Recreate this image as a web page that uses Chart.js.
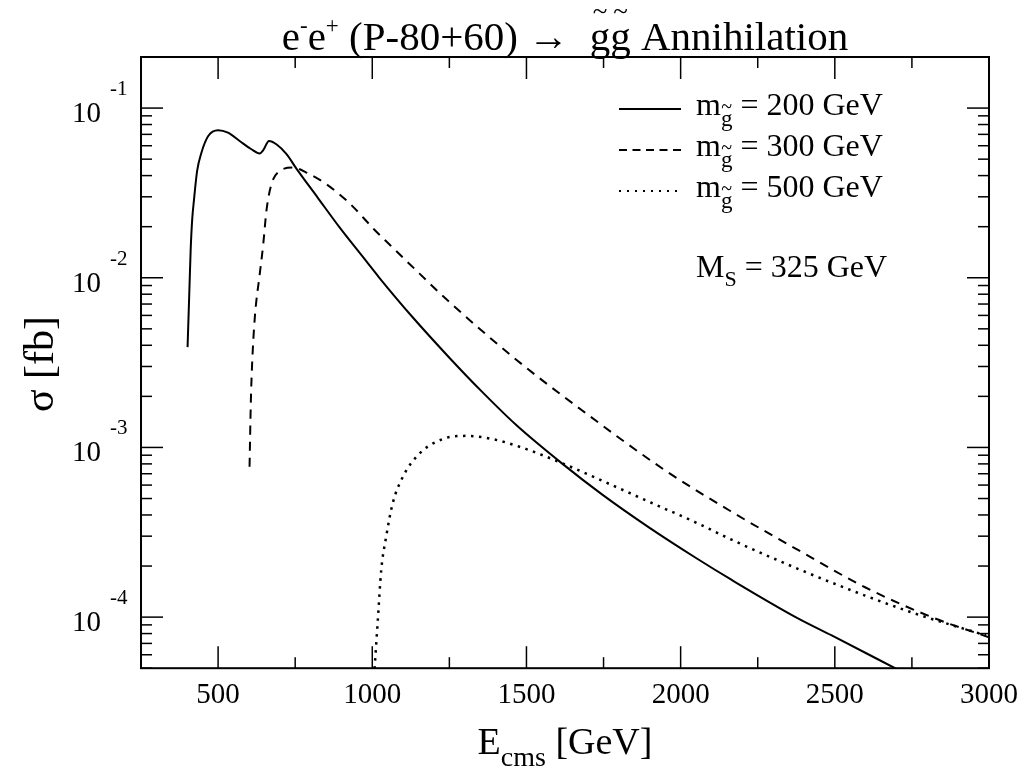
<!DOCTYPE html>
<html>
<head>
<meta charset="utf-8">
<script src="https://cdn.jsdelivr.net/npm/chart.js@4.4.1/dist/chart.umd.min.js"></script>
<style>
  html, body { margin: 0; padding: 0; background: #fff; }
</style>
</head>
<body>
<canvas id="chart" width="1024" height="772"></canvas>
<script>
// sigma [fb] against E_cms [GeV], one pair per gluino mass
const e200 = [401, 406, 411, 416, 422, 432, 446, 468, 500, 532, 570, 608, 635, 646, 665, 689, 722, 754, 824, 894, 969, 1023, 1131, 1250, 1358, 1466, 1617, 1746, 1897, 2050, 2167, 2382, 2490, 2700];
const s200 = [0.0039, 0.0075, 0.0145, 0.022, 0.029, 0.0426, 0.0546, 0.0684, 0.074, 0.0716, 0.064, 0.0572, 0.054, 0.0563, 0.064, 0.0612, 0.0535, 0.044, 0.0295, 0.0198, 0.0133, 0.0100, 0.00585, 0.00338, 0.00211, 0.00136, 0.00080, 0.000527, 0.000338, 0.000223, 0.000165, 0.000098, 0.000078, 0.0000495];

const e300 = [602, 606, 610, 619, 635, 646, 657, 673, 700, 743, 786, 851, 926, 1007, 1056, 1120, 1250, 1466, 1681, 1951, 2167, 2382, 2598, 2814, 3000];
const s300 = [0.00077, 0.0018, 0.003, 0.0058, 0.0105, 0.0155, 0.025, 0.0356, 0.0426, 0.0446, 0.0417, 0.0356, 0.0275, 0.0192, 0.0157, 0.0121, 0.0072, 0.0033, 0.00165, 0.00073, 0.000416, 0.000248, 0.00015, 0.0001, 0.000076];

const e500 = [1004, 1018, 1029, 1045, 1066, 1099, 1153, 1228, 1304, 1390, 1498, 1628, 1768, 1919, 2048, 2167, 2382, 2598, 2760, 2990];
const s500 = [0.00004, 0.000096, 0.000189, 0.000297, 0.000467, 0.00067, 0.00092, 0.00112, 0.00117, 0.00112, 0.00098, 0.00079, 0.00061, 0.00046, 0.000362, 0.000285, 0.000192, 0.000134, 0.000105, 0.000078];

const xTicks = [500, 1000, 1500, 2000, 2500, 3000];
const xMinor = [750, 1250, 1750, 2250, 2750];
const yDecades = [1e-4, 1e-3, 1e-2, 1e-1];
const yExponents = ['-4', '-3', '-2', '-1'];
const legendMasses = ['200', '300', '500'];

const serif = '"Liberation Serif", "Times New Roman", serif';
const f = px => px + 'px ' + serif;

const dashes = [[], [9, 7], [2.5, 5.5]];
const legendDashes = [[], [8, 5.5], [2, 6]];

function pts(xs, ys) {
  return xs.map((x, i) => ({ x: x, y: ys[i] }));
}

// draws a row of text pieces (with super/subscripts) from x, or centred on x
function runs(ctx, x, y, parts, center) {
  let w = 0;
  parts.forEach(p => { ctx.font = f(p.s); p.w = ctx.measureText(p.t).width; w += p.w; });
  let cx = center ? x - w / 2 : x;
  ctx.textAlign = 'left';
  ctx.textBaseline = 'alphabetic';
  parts.forEach(p => {
    ctx.font = f(p.s);
    ctx.fillText(p.t, cx, y + (p.dy || 0));
    if (p.tilde) {
      ctx.font = f(p.tilde);
      ctx.textAlign = 'center';
      ctx.fillText('~', cx + p.w / 2, y + (p.dy || 0) + p.ty);
      ctx.textAlign = 'left';
    }
    cx += p.w;
  });
}

const framePlugin = {
  id: 'frame',
  afterDraw(chart) {
    const { ctx, chartArea: a, scales: { x, y } } = chart;
    ctx.save();
    ctx.strokeStyle = '#000';
    ctx.fillStyle = '#000';
    const line = (x1, y1, x2, y2) => { ctx.beginPath(); ctx.moveTo(x1, y1); ctx.lineTo(x2, y2); ctx.stroke(); };

    // ticks inside the frame, all four sides
    ctx.lineWidth = 1.5;
    xTicks.forEach(v => {
      const px = x.getPixelForValue(v);
      line(px, a.bottom, px, a.bottom - 22);
      line(px, a.top, px, a.top + 22);
    });
    xMinor.forEach(v => {
      const px = x.getPixelForValue(v);
      line(px, a.bottom, px, a.bottom - 11);
      line(px, a.top, px, a.top + 11);
    });
    [1e-5, 1e-4, 1e-3, 1e-2, 1e-1].forEach(d => {
      for (let k = 1; k < 10; k++) {
        const v = k * d;
        if (v < y.min * 0.999 || v > y.max * 1.001) continue;
        const py = y.getPixelForValue(v);
        const len = k === 1 ? 22 : 11;
        line(a.left, py, a.left + len, py);
        line(a.right, py, a.right - len, py);
      }
    });
    ctx.lineWidth = 2;
    ctx.strokeRect(a.left, a.top, a.right - a.left, a.bottom - a.top);

    // y tick labels 10^n
    yDecades.forEach((v, i) => {
      const py = y.getPixelForValue(v);
      ctx.font = f(29);
      ctx.textAlign = 'right';
      ctx.textBaseline = 'alphabetic';
      ctx.fillText('10', 101, py + 14);
      ctx.font = f(21);
      ctx.textAlign = 'left';
      ctx.fillText(yExponents[i], 110, py - 13);
    });

    // title
    runs(ctx, 565, 50, [
      { t: 'e', s: 41 }, { t: '-', s: 23, dy: -17 }, { t: 'e', s: 41 }, { t: '+', s: 23, dy: -17 },
      { t: ' (P-80+60) \u2192  ', s: 41 },
      { t: 'g', s: 41, tilde: 27, ty: -30 }, { t: 'g', s: 41, tilde: 27, ty: -30 },
      { t: ' Annihilation', s: 41 }
    ], true);

    // axis titles
    runs(ctx, 565, 754, [{ t: 'E', s: 38 }, { t: 'cms', s: 28, dy: 12 }, { t: ' [GeV]', s: 38 }], true);
    ctx.save();
    ctx.translate(53, 364);
    ctx.rotate(-Math.PI / 2);
    ctx.font = f(42);
    ctx.textAlign = 'center';
    ctx.textBaseline = 'alphabetic';
    ctx.fillText('\u03c3 [fb]', 0, 0);
    ctx.restore();

    // legend
    legendMasses.forEach((m, i) => {
      const ly = 109 + i * 41;
      ctx.lineWidth = i === 2 ? 2.2 : 2;
      ctx.setLineDash(legendDashes[i]);
      line(619, ly, 681, ly);
      ctx.setLineDash([]);
      runs(ctx, 696, ly + 6, [
        { t: 'm', s: 32 },
        { t: 'g', s: 23, dy: 11, tilde: 20, ty: -13 },
        { t: ' = ' + m + ' GeV', s: 32 }
      ], false);
    });
    runs(ctx, 696, 277, [{ t: 'M', s: 32 }, { t: 'S', s: 22, dy: 9 }, { t: ' = 325 GeV', s: 32 }], false);

    ctx.restore();
  }
};

const series = [[e200, s200], [e300, s300], [e500, s500]];

new Chart(document.getElementById('chart'), {
  type: 'line',
  data: {
    datasets: series.map((s, i) => ({
      label: 'm = ' + legendMasses[i] + ' GeV',
      data: pts(s[0], s[1]),
      borderColor: '#000',
      borderWidth: i === 2 ? 2.5 : 2,
      borderDash: dashes[i],
      pointRadius: 0,
      fill: false,
      cubicInterpolationMode: 'monotone'
    }))
  },
  options: {
    responsive: false,
    animation: false,
    devicePixelRatio: 1,
    layout: { padding: { left: 141, top: 57, right: 35, bottom: 49 } },
    plugins: {
      legend: { display: false },
      tooltip: { enabled: false }
    },
    scales: {
      x: {
        type: 'linear',
        min: 250,
        max: 3000,
        afterBuildTicks: s => { s.ticks = xTicks.map(v => ({ value: v })); },
        afterFit: s => { s.paddingLeft = 0; s.paddingRight = 0; },
        grid: { display: false, drawTicks: false },
        border: { display: false },
        ticks: {
          color: '#000',
          font: { family: serif, size: 29 },
          padding: 10,
          maxRotation: 0,
          autoSkip: false,
          callback: v => String(v)
        }
      },
      y: {
        type: 'logarithmic',
        min: 5e-5,
        max: 0.2,
        grid: { display: false, drawTicks: false },
        border: { display: false },
        ticks: { display: false }
      }
    }
  },
  plugins: [framePlugin]
});
</script>
</body>
</html>
